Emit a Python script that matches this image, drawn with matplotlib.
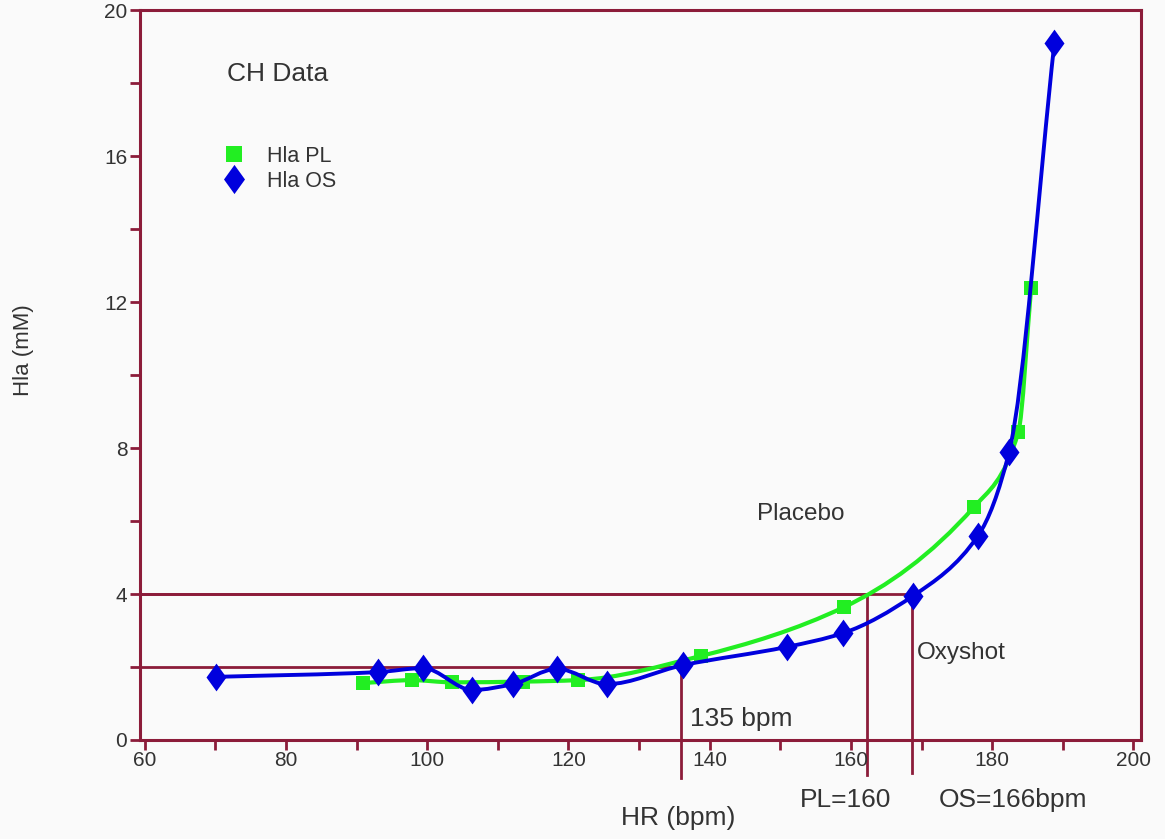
import matplotlib
matplotlib.use("Agg")
import matplotlib.pyplot as plt
from matplotlib.lines import Line2D
from matplotlib.path import Path
from matplotlib.patches import PathPatch
import numpy as np

plt.rcParams['font.family'] = ['Liberation Sans', 'DejaVu Sans']

# Hla PL (placebo) readings
pl_hr = [90.9, 97.9, 103.5, 113.6, 121.3, 138.7, 159.0, 177.4, 183.7, 185.5]
pl_hla = [1.56, 1.64, 1.58, 1.6, 1.64, 2.3, 3.64, 6.38, 8.44, 12.38]

# Hla OS (oxyshot) readings
os_hr = [70.1, 93.0, 99.4, 106.4, 112.1, 118.4, 125.4, 136.2, 150.9, 158.9, 168.8, 178.0, 182.4, 188.8]
os_hla = [1.73, 1.86, 1.97, 1.37, 1.53, 1.95, 1.53, 2.05, 2.55, 2.93, 3.95, 5.6, 7.9, 19.1]

# threshold guide lines: (hr, hla, how far below the axis the drop line runs)
thresholds = [(135.9, 2.0, -1.05), (162.2, 4.0, -0.95), (168.7, 4.0, -0.9)]

frame_col = '#8c1c3a'
txt_col = '#333333'
green = '#22ee22'
blue = '#0000dd'


def smooth_path(xs, ys):
    # smoothed connecting line: monotone cubic segments drawn as beziers
    x = np.asarray(xs, float)
    y = np.asarray(ys, float)
    h = np.diff(x)
    d = np.diff(y) / h
    m = np.zeros_like(y)
    m[0], m[-1] = d[0], d[-1]
    for k in range(1, len(x) - 1):
        if d[k - 1] * d[k] > 0:
            w1 = 2 * h[k] + h[k - 1]
            w2 = h[k] + 2 * h[k - 1]
            m[k] = (w1 + w2) / (w1 / d[k - 1] + w2 / d[k])
    verts = [(x[0], y[0])]
    codes = [Path.MOVETO]
    for i in range(len(x) - 1):
        verts += [(x[i] + h[i] / 3, y[i] + m[i] * h[i] / 3),
                  (x[i + 1] - h[i] / 3, y[i + 1] - m[i + 1] * h[i] / 3),
                  (x[i + 1], y[i + 1])]
        codes += [Path.CURVE4] * 3
    return Path(verts, codes)


fig = plt.figure(figsize=(11.65, 8.39), dpi=100)
fig.patch.set_facecolor('#fafafa')
ax = fig.add_axes([0.120, 0.118, 0.859, 0.870])
ax.set_facecolor('#fafafa')

xmin, xmax = 59.3, 201
ax.set_xlim(xmin, xmax)
ax.set_ylim(0, 20)

# reference lines
for hr, lev, low in thresholds:
    ax.plot([xmin, hr], [lev, lev], color=frame_col, lw=2.0, zorder=1)
    ax.plot([hr, hr], [lev, low], color=frame_col, lw=2.0, zorder=1, clip_on=False)

diamond = [(0, 1), (0.72, 0), (0, -1), (-0.72, 0), (0, 1)]

ax.add_patch(PathPatch(smooth_path(pl_hr, pl_hla), fill=False, edgecolor=green,
                       lw=3, zorder=3))
ax.plot(pl_hr, pl_hla, ls='none', color=green, marker='s', markersize=10,
        markeredgewidth=0, zorder=3)
ax.add_patch(PathPatch(smooth_path(os_hr, os_hla), fill=False, edgecolor=blue,
                       lw=2.8, zorder=4))
ax.plot(os_hr, os_hla, ls='none', color=blue, marker=diamond, markersize=20,
        markeredgewidth=0, zorder=4)

for s in ax.spines.values():
    s.set_color(frame_col)
    s.set_linewidth(2.2)

ax.set_xticks(np.arange(60, 201, 20))
ax.set_xticks(np.arange(70, 201, 20), minor=True)
ax.set_yticks(np.arange(0, 21, 4))
ax.set_yticks(np.arange(2, 21, 4), minor=True)
ax.tick_params(which='both', direction='out', color=frame_col, width=2, length=7,
               labelsize=15, labelcolor=txt_col)
ax.tick_params(axis='x', pad=1)
ax.tick_params(axis='y', pad=2)

fig.text(0.020, 0.583, 'Hla (mM)', rotation=90, ha='center', va='center',
         fontsize=16, color=txt_col)

ax.text(135.6, -2.14, 'HR (bpm)', ha='center', va='center', fontsize=19,
        color=txt_col, clip_on=False)
ax.text(159.2, -1.64, 'PL=160', ha='center', va='center', fontsize=19,
        color=txt_col, clip_on=False)
ax.text(183.0, -1.64, 'OS=166bpm', ha='center', va='center', fontsize=19,
        color=txt_col, clip_on=False)

ax.text(71.6, 18.25, 'CH Data', ha='left', va='center', fontsize=19, color=txt_col)
ax.text(152.9, 6.2, 'Placebo', ha='center', va='center', fontsize=17.5, color=txt_col)
ax.text(169.4, 2.38, 'Oxyshot', ha='left', va='center', fontsize=17.5, color=txt_col)
ax.text(137.2, 0.58, '135 bpm', ha='left', va='center', fontsize=19, color=txt_col)

handles = [
    Line2D([], [], ls='none', marker='s', markersize=11, color=green, markeredgewidth=0),
    Line2D([], [], ls='none', marker=diamond, markersize=21, color=blue, markeredgewidth=0),
]
ax.legend(handles, ['Hla PL', 'Hla OS'], loc='upper left', bbox_to_anchor=(0.073, 0.826),
          frameon=False, fontsize=15.5, handlelength=1.2, handletextpad=0.9,
          labelspacing=0.2, labelcolor=txt_col, borderaxespad=0)

fig.savefig('out.png', dpi=100, facecolor=fig.get_facecolor())
